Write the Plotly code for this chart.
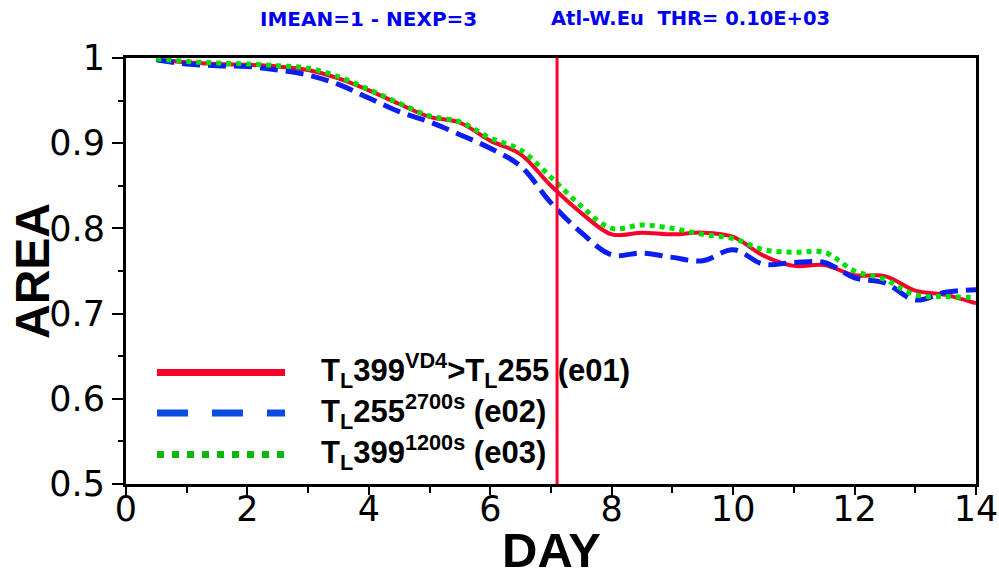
import plotly.graph_objects as go

# ---- data ----
days = [0.5, 1.0, 1.5, 2.0, 2.5, 3.0, 3.5, 4.0, 4.5, 5.0, 5.5, 6.0, 6.5, 7.0,
        7.5, 8.0, 8.5, 9.0, 9.5, 10.0, 10.5, 11.0, 11.5, 12.0, 12.5, 13.0, 13.5, 14.0]
e01 = [0.998, 0.995, 0.993, 0.992, 0.990, 0.986, 0.976, 0.962, 0.946, 0.931, 0.924, 0.903, 0.887, 0.850,
       0.818, 0.793, 0.795, 0.793, 0.795, 0.790, 0.768, 0.756, 0.757, 0.745, 0.744, 0.727, 0.722, 0.712]
e02 = [0.998, 0.993, 0.991, 0.990, 0.986, 0.980, 0.969, 0.953, 0.937, 0.925, 0.910, 0.894, 0.873, 0.830,
       0.795, 0.769, 0.771, 0.766, 0.762, 0.775, 0.758, 0.760, 0.760, 0.742, 0.736, 0.716, 0.725, 0.728]
e03 = [0.999, 0.996, 0.994, 0.993, 0.991, 0.988, 0.978, 0.963, 0.947, 0.932, 0.925, 0.906, 0.892, 0.860,
       0.826, 0.800, 0.804, 0.800, 0.793, 0.788, 0.775, 0.772, 0.772, 0.750, 0.740, 0.722, 0.720, 0.719]
marker_day = 7.1
x_ticks = [0, 2, 4, 6, 8, 10, 12, 14]
y_ticks = [0.5, 0.6, 0.7, 0.8, 0.9, 1.0]
y_tick_labels = ["0.5", "0.6", "0.7", "0.8", "0.9", "1"]
legend_labels = [
    "<b>T<sub>L</sub>399<sup>VD4</sup>>T<sub>L</sub>255 (e01)</b>",
    "<b>T<sub>L</sub>255<sup>2700s</sup> (e02)</b>",
    "<b>T<sub>L</sub>399<sup>1200s</sup> (e03)</b>",
]

RED = "#f8002a"
BLUE = "#0a1ef0"
GREEN = "#00e000"
LRED = "#f4002a"
LBLUE = "#0a4be0"
LGREEN = "#08b808"

W, H = 999, 578
L, R, T, B = 126, 976, 58, 484


def px(xp):
    return (xp - L) / (R - L)


def py(yp):
    return (B - yp) / (B - T)


fig = go.Figure()
fig.add_trace(go.Scatter(x=days, y=e01, mode="lines", line=dict(color=RED, width=4, shape="spline"),
                         showlegend=False))
fig.add_trace(go.Scatter(x=days, y=e02, mode="lines",
                         line=dict(color=BLUE, width=5, dash="18px,8px", shape="spline"), showlegend=False))
fig.add_trace(go.Scatter(x=days, y=e03, mode="lines",
                         line=dict(color=GREEN, width=5, dash="dot", shape="spline"), showlegend=False))

# vertical marker
fig.add_shape(type="line", xref="x", yref="paper", x0=marker_day, x1=marker_day, y0=0, y1=1,
              line=dict(color="#ff0030", width=3))

# manual legend
leg_y = [372.5, 413, 454.5]
styles = [dict(color=LRED, width=7), dict(color=LBLUE, width=7, dash="31px,24px"),
          dict(color=LGREEN, width=7, dash="7px,8px")]
for yy, st, lab in zip(leg_y, styles, legend_labels):
    fig.add_shape(type="line", xref="paper", yref="paper", x0=px(157), x1=px(285), y0=py(yy), y1=py(yy),
                  line=st)
    fig.add_annotation(xref="paper", yref="paper", x=px(319), y=py(yy - 2), xanchor="left", yanchor="middle",
                       text=lab, showarrow=False,
                       font=dict(family="Liberation Sans", size=31, color="black"))

# title texts
fig.add_annotation(xref="paper", yref="paper", x=px(368), y=py(19), text="<b>IMEAN=1 - NEXP=3</b>",
                   showarrow=False, xanchor="center", yanchor="middle",
                   font=dict(family="DejaVu Sans", size=20, color="#0000ee"))
fig.add_annotation(xref="paper", yref="paper", x=px(690), y=py(19), text="<b>Atl-W.Eu  THR= 0.10E+03</b>",
                   showarrow=False, xanchor="center", yanchor="middle",
                   font=dict(family="DejaVu Sans", size=19.5, color="#0000ee"))

# axis titles
fig.add_annotation(xref="paper", yref="paper", x=px(551), y=py(550), text="<b>DAY</b>", showarrow=False,
                   xanchor="center", yanchor="middle",
                   font=dict(family="Liberation Sans", size=49, color="black"))
fig.add_annotation(xref="paper", yref="paper", x=px(32), y=py(271), text="<b>AREA</b>", showarrow=False,
                   textangle=-90, xanchor="center", yanchor="middle",
                   font=dict(family="Liberation Sans", size=48, color="black"))

fig.update_xaxes(range=[0, 14], tickvals=x_ticks, ticks="outside", ticklen=8, tickwidth=2,
                 tickcolor="black", showline=True, linewidth=3, linecolor="black", mirror=True,
                 showgrid=False, zeroline=False, automargin=False, ticklabelstandoff=-16,
                 minor=dict(dtick=1, ticks="outside", ticklen=6, tickwidth=1.5, tickcolor="black"),
                 tickfont=dict(family="DejaVu Sans", size=35, color="black"))
fig.update_yaxes(range=[0.5, 1.0], tickvals=y_ticks, ticktext=y_tick_labels, ticks="outside", ticklen=11,
                 tickwidth=2, tickcolor="black", showline=True, linewidth=3, linecolor="black", mirror=True,
                 showgrid=False, zeroline=False, automargin=False,
                 minor=dict(dtick=0.05, ticks="outside", ticklen=5, tickwidth=1.5, tickcolor="black"),
                 tickfont=dict(family="DejaVu Sans", size=35, color="black"))

fig.update_layout(width=W, height=H, margin=dict(l=L, r=W - R, t=T, b=H - B),
                  plot_bgcolor="white", paper_bgcolor="white", showlegend=False)

fig.write_html("out.html")
